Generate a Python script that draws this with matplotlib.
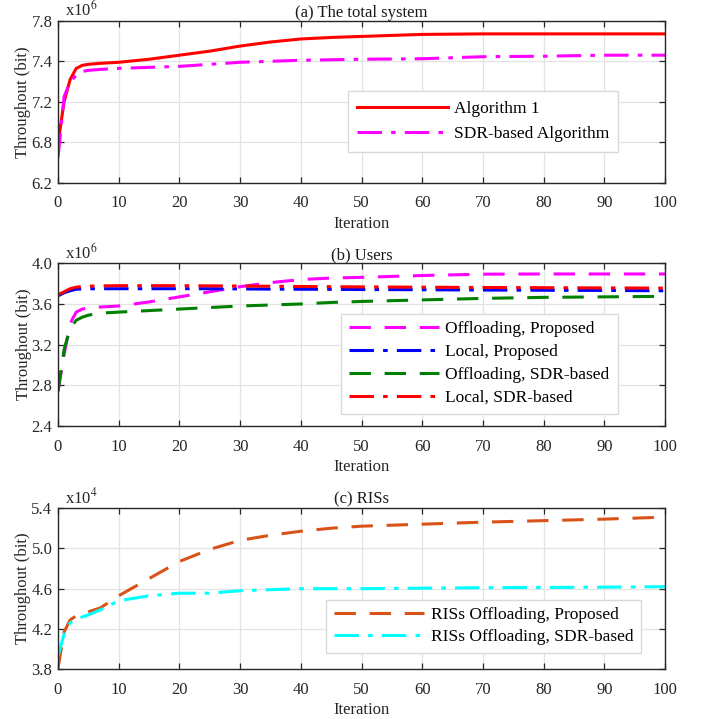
import matplotlib
matplotlib.use("Agg")
import matplotlib.pyplot as plt

plt.rcParams['font.family'] = ['Liberation Serif', 'DejaVu Serif']
plt.rcParams['mathtext.fontset'] = 'stix'

#%% data (values in units of the axis multiplier)

it = [0, 1, 2, 3, 4, 5, 7, 10, 15, 20, 25, 30, 35, 40, 45, 50, 60, 70, 80, 90, 100]

# (a) total system, x10^6
alg1 = [6.59, 7.0, 7.22, 7.33, 7.36, 7.37, 7.38, 7.39, 7.42, 7.46, 7.50, 7.55, 7.59, 7.62, 7.635,
        7.645, 7.665, 7.67, 7.67, 7.67, 7.67]
sdr_alg = [6.45, 7.05, 7.2, 7.26, 7.30, 7.31, 7.32, 7.33, 7.34, 7.35, 7.37, 7.39, 7.40, 7.41, 7.415,
           7.42, 7.425, 7.445, 7.45, 7.46, 7.46]
yticks_a = [6.2, 6.6, 7.0, 7.4, 7.8]
yticklabels_a = ['6.2', '6.8', '7.2', '7.4', '7.8']

# (b) users, x10^6
off_prop = [2.74, 3.10, 3.41, 3.52, 3.55, 3.56, 3.57, 3.58, 3.62, 3.67, 3.72, 3.77, 3.81, 3.84, 3.855,
            3.862, 3.88, 3.893, 3.895, 3.895, 3.895]
loc_prop = [3.68, 3.71, 3.73, 3.745, 3.748, 3.75, 3.75, 3.75, 3.75, 3.75, 3.75, 3.748, 3.746, 3.745, 3.744,
            3.742, 3.74, 3.737, 3.735, 3.733, 3.73]
off_sdr = [2.74, 3.15, 3.36, 3.44, 3.47, 3.49, 3.51, 3.52, 3.535, 3.55, 3.565, 3.58, 3.59, 3.60, 3.615,
           3.625, 3.64, 3.655, 3.665, 3.67, 3.675]
loc_sdr = [3.69, 3.72, 3.75, 3.765, 3.772, 3.775, 3.778, 3.78, 3.78, 3.78, 3.778, 3.776, 3.774, 3.772, 3.77,
           3.768, 3.765, 3.762, 3.76, 3.758, 3.756]
yticks_b = [2.4, 2.8, 3.2, 3.6, 4.0]

# (c) RISs, x10^4
ris_prop = [3.81, 4.17, 4.29, 4.33, 4.35, 4.37, 4.41, 4.53, 4.70, 4.87, 4.99, 5.08, 5.13, 5.17, 5.20,
            5.22, 5.24, 5.26, 5.275, 5.29, 5.31]
ris_sdr = [3.93, 4.15, 4.26, 4.30, 4.32, 4.34, 4.39, 4.48, 4.53, 4.555, 4.555, 4.58, 4.59, 4.60, 4.60,
           4.60, 4.605, 4.61, 4.612, 4.615, 4.62]
yticks_c = [3.8, 4.2, 4.6, 5.0, 5.4]

xticks = [0, 10, 20, 30, 40, 50, 60, 70, 80, 90, 100]

#%% figure

fig = plt.figure(figsize=(7.02, 7.19), dpi=100)
axa = fig.add_axes([0.0826, 0.7455, 0.865, 0.2257])
axb = fig.add_axes([0.0826, 0.4075, 0.865, 0.2263])
axc = fig.add_axes([0.0826, 0.0691, 0.865, 0.2243])

dd = (7, 4.5)          # dashed
dda = (8, 3, 1.5, 3)   # dash-dot

axa.plot(it, alg1, color='#ff0000', lw=2.2, label='Algorithm 1')
axa.plot(it, sdr_alg, color='#ff00ff', lw=2.2, dashes=dda, label='SDR-based Algorithm')

axb.plot(it, off_prop, color='#ff00ff', lw=2.2, dashes=dd, label='Offloading, Proposed')
axb.plot(it, loc_prop, color='#0000ff', lw=2.2, dashes=dda, label='Local, Proposed')
axb.plot(it, off_sdr, color='#008000', lw=2.2, dashes=dd, label='Offloading, SDR-based')
axb.plot(it, loc_sdr, color='#ff0000', lw=2.2, dashes=dda, label='Local, SDR-based')

axc.plot(it, ris_prop, color='#d95319', lw=2.2, dashes=dd, label='RISs Offloading, Proposed')
axc.plot(it, ris_sdr, color='#00ffff', lw=2.2, dashes=dda, label='RISs Offloading, SDR-based')

panels = [
    (axa, '(a) The total system', yticks_a, yticklabels_a, '6', (0.700, 0.378), 0.54, 0.55),
    (axb, '(b) Users', yticks_b, ['%.1f' % v for v in yticks_b], '6', (0.694, 0.384), 0.38, 0.45),
    (axc, '(c) RISs', yticks_c, ['%.1f' % v for v in yticks_c], '4', (0.701, 0.268), 0.30, 0.45),
]

for ax, title, yt, ytl, ex, lpos, lsp, bpad in panels:
    ax.set_xlim(0, 100)
    ax.set_ylim(yt[0], yt[-1])
    ax.set_xticks(xticks)
    ax.set_yticks(yt)
    ax.set_yticklabels(ytl)
    ax.grid(True, color='#e3e3e3', lw=0.9)
    ax.set_axisbelow(True)
    ax.tick_params(direction='in', top=True, right=True, length=4, width=0.9,
                   labelsize=12, colors='#262626', pad=4)
    ax.tick_params(axis='x', pad=9)
    for s in ax.spines.values():
        s.set_linewidth(1.0)
        s.set_color('#262626')
    ax.set_title(title, fontsize=12, pad=3, color='#1a1a1a')
    ax.set_xlabel('Iteration', fontsize=12, labelpad=3, color='#262626')
    ax.set_ylabel('Throughout (bit)', fontsize=12, labelpad=0, color='#262626')
    ax.text(0.012, 1.005, 'x10$^{%s}$' % ex, transform=ax.transAxes, fontsize=12,
            ha='left', va='bottom', color='#262626')
    leg = ax.legend(loc='center', bbox_to_anchor=lpos, fontsize=12.5, handlelength=5.2,
                    handletextpad=0.35, labelspacing=lsp, borderpad=bpad,
                    fancybox=False, framealpha=1, edgecolor='#d9d9d9')
    leg.get_frame().set_linewidth(1.0)

plt.savefig('out.png', dpi=100)
